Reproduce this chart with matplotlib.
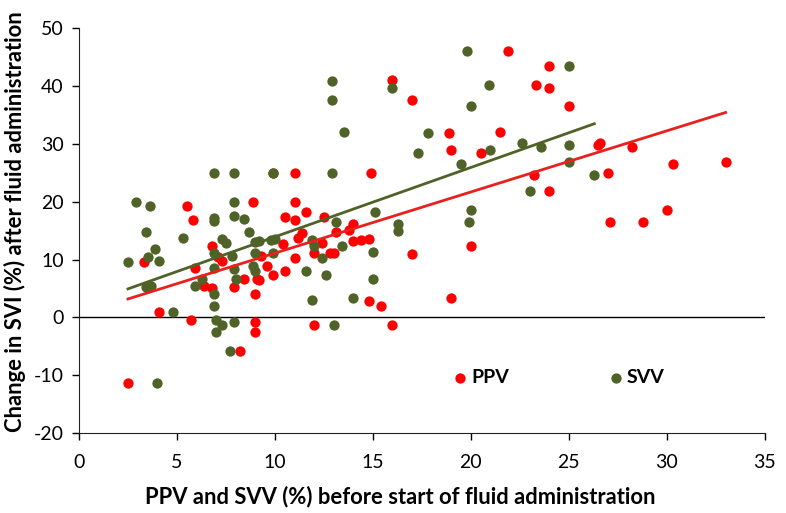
import numpy as np
import matplotlib
matplotlib.use("Agg")
import matplotlib.pyplot as plt

# PPV (%) before fluid vs change in SVI (%) after fluid
ppv_x = [5.5, 8.9, 5.8, 6.8, 3.3, 7.3, 7.1, 5.9, 8.4, 9.1, 6.4, 6.8, 7.9, 9.0, 4.1,
         5.7, 9.0, 9.0, 8.2, 2.5, 16.0, 17.0, 9.9, 11.0, 14.9, 11.0, 11.6, 10.5, 11.0,
         12.5, 14.0, 13.8, 11.4, 11.2, 13.1, 10.4, 12.4, 14.0, 14.4, 14.8, 12.0, 12.8,
         13.0, 9.3, 17.0, 11.0, 9.6, 9.9, 10.5, 9.2, 14.8, 15.4, 12.0, 16.0, 21.9,
         24.0, 23.3, 24.0, 25.0, 18.9, 21.5, 19.0, 20.5, 26.5, 26.6, 23.2, 27.0, 24.0,
         27.1, 20.0, 19.0, 28.2, 30.3, 33.0, 28.8, 30.0]
ppv_y = [19.2, 20.0, 16.8, 12.3, 9.6, 9.8, 10.5, 8.5, 6.7, 6.6, 5.4, 5.1, 5.3, 4.1, 1.0,
         -0.5, -0.8, -2.6, -5.9, -11.4, 41.0, 37.5, 25.0, 24.9, 25.0, 19.9, 18.3, 17.4, 16.8,
         17.3, 16.2, 15.1, 14.6, 13.8, 14.7, 12.7, 12.9, 13.2, 13.4, 13.5, 11.2, 11.1,
         11.2, 10.6, 11.0, 10.3, 8.9, 7.4, 8.0, 6.4, 2.9, 2.0, -1.3, -1.3, 46.0,
         43.4, 40.2, 39.6, 36.6, 31.9, 32.1, 28.9, 28.4, 29.8, 30.1, 24.7, 25.0, 21.8,
         16.5, 12.3, 3.3, 29.5, 26.5, 26.9, 16.5, 18.6]

# SVV (%) before fluid vs change in SVI (%) after fluid
svv_x = [6.9, 7.9, 2.9, 3.6, 7.9, 6.9, 6.9, 7.9, 8.4, 3.4, 5.3, 8.7, 7.3, 7.5, 3.9,
         3.5, 4.1, 2.5, 6.9, 7.8, 9.0, 9.0, 6.9, 7.9, 8.9, 9.0, 8.0, 6.3, 3.4, 3.7,
         5.9, 6.9, 6.9, 4.8, 7.0, 7.3, 7.0, 7.9, 7.7, 4.0, 12.9, 12.9, 16.0, 13.5,
         17.8, 17.3, 9.9, 12.9, 15.1, 13.1, 16.3, 16.3, 9.2, 9.8, 10.0, 11.9, 12.0,
         13.4, 9.9, 15.0, 12.4, 11.6, 12.6, 15.0, 11.9, 14.0, 13.0, 19.8, 25.0, 20.9,
         20.0, 21.0, 22.6, 23.6, 25.0, 19.5, 25.0, 26.3, 23.0, 20.0, 19.9]
svv_y = [24.9, 24.9, 19.9, 19.2, 20.0, 17.2, 16.6, 17.5, 17.0, 14.7, 13.7, 14.7, 13.6,
         12.9, 11.9, 10.4, 9.8, 9.5, 11.2, 10.6, 13.0, 11.2, 8.6, 8.3, 8.9, 8.0, 6.6,
         6.7, 5.3, 5.5, 5.4, 4.1, 1.95, 1.0, -0.5, -1.4, -2.6, -0.8, -5.9, -11.4, 40.9,
         37.5, 39.6, 32.1, 31.8, 28.4, 25.0, 25.0, 18.2, 16.5, 16.1, 14.9, 13.2, 13.4,
         13.5, 13.4, 12.3, 12.3, 11.1, 11.3, 10.3, 8.0, 7.4, 6.7, 3.0, 3.3, -1.3, 46.0,
         43.4, 40.2, 36.6, 28.9, 30.1, 29.5, 29.8, 26.5, 26.9, 24.7, 21.8, 18.6, 16.5]

x_ticks = [0, 5, 10, 15, 20, 25, 30, 35]
y_ticks = [-20, -10, 0, 10, 20, 30, 40, 50]

RED = "#FF0000"
GREEN = "#4F6228"

plt.rcParams["font.family"] = ["Lato", "DejaVu Sans"]
plt.rcParams["axes.unicode_minus"] = False

fig = plt.figure(figsize=(7.86, 5.13), dpi=100)
ax = fig.add_axes([0.1005, 0.156, 0.8725, 0.789])

ax.scatter(ppv_x, ppv_y, s=55, color=RED, linewidths=0, zorder=3, label="PPV")
ax.scatter(svv_x, svv_y, s=55, color=GREEN, linewidths=0, zorder=4, label="SVV")

# linear trendlines over each series' range
for xs, ys, c in [(ppv_x, ppv_y, "#E8201E"), (svv_x, svv_y, GREEN)]:
    xs = np.array(xs)
    k, b = np.polyfit(xs, np.array(ys), 1)
    xl = np.array([xs.min(), xs.max()])
    ax.plot(xl, k * xl + b, color=c, lw=2.0, zorder=5)

ax.axhline(0, color="black", lw=1.0, zorder=2)

ax.set_xlim(0, 35)
ax.set_ylim(-20, 50)
ax.set_xticks(x_ticks)
ax.set_yticks(y_ticks)
ax.tick_params(labelsize=14, length=5, width=1, direction="out", colors="black")
ax.tick_params(axis="x", pad=10)
ax.tick_params(axis="y", pad=6)
for s in ["top", "right"]:
    ax.spines[s].set_visible(False)
for s in ["left", "bottom"]:
    ax.spines[s].set_color("#222222")

ax.set_xlabel("PPV and SVV (%) before start of fluid administration",
              fontsize=15.8, fontweight="bold")
ax.set_ylabel("Change in SVI (%) after fluid administration",
              fontsize=15.8, fontweight="bold")
ax.xaxis.set_label_coords(0.469, -0.13)
ax.yaxis.set_label_coords(-0.093, 0.523)
ax.yaxis.label.set_va("center")

leg = ax.legend(loc="center left", bbox_to_anchor=(0.522, 0.137), ncol=2,
                frameon=False, handlelength=0.6, handletextpad=0.25,
                columnspacing=5.2, prop={"weight": "bold", "size": 14})

fig.savefig("out.png", dpi=100)
